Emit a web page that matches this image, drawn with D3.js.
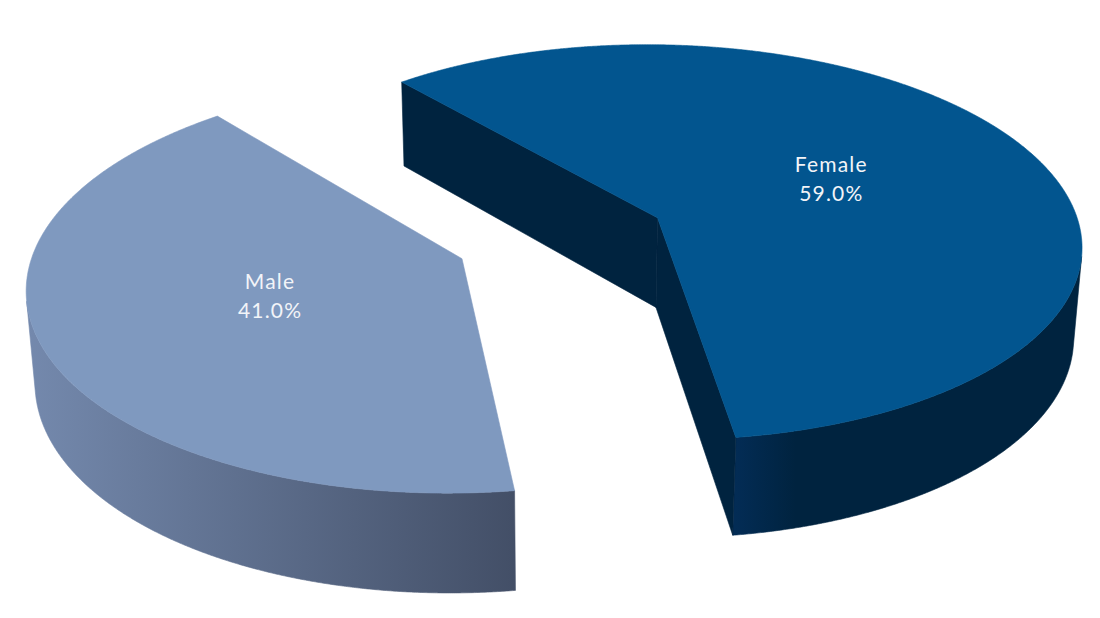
<!DOCTYPE html>
<html>
<head>
<meta charset="utf-8">
<script src="https://cdn.jsdelivr.net/npm/d3@7/dist/d3.min.js"></script>
<style>
  html, body { margin: 0; padding: 0; background: #ffffff; }
  svg { display: block; }
</style>
</head>
<body>
<svg id="chart" width="1100" height="618"></svg>
<script>
// data
var categories = ["Female", "Male"];
var shares = [59.0, 41.0];
var topColors = ["#02558f", "#7f99bf"];
var sideColors = [["#032c55", "#00233f"], ["#7489ad", "#434f67"]];

// view (3d pie, perspective)
var W = 1100, H = 618;
var cx = 561, cy = 238;          // screen pos of pie centre (top face)
var R = 425, depthH = 104;       // radius, thickness
var tilt = 28 * Math.PI / 180;   // elevation
var dist = 3000;                 // camera distance
var explode = 107;
var firstAngle = -40.2 * Math.PI / 180;
var labelR = 0.47;

var svg = d3.select("#chart");
var defs = svg.append("defs");

var pie = d3.pie().sort(null).value(function(d) { return d; })
  .startAngle(firstAngle).endAngle(firstAngle + 2 * Math.PI);
var arcs = pie(shares);

var cam = [0, dist * Math.sin(tilt), -dist * Math.cos(tilt)];

function project(p) {
  var x = p[0], y = p[1], z = p[2];
  var depth = -y * Math.sin(tilt) + z * Math.cos(tilt);
  var up = y * Math.cos(tilt) + z * Math.sin(tilt);
  var s = dist / (dist + depth);
  return [cx + x * s, cy - up * s];
}

// d3 angle (clockwise from 12 o'clock) -> ground angle (ccw from right)
function ground(a) { return Math.PI / 2 - a; }

var line = d3.line();

var slices = arcs.map(function(a, i) {
  var t0 = ground(a.endAngle), t1 = ground(a.startAngle);
  var mid = (t0 + t1) / 2;
  var ox = explode * Math.cos(mid), oz = explode * Math.sin(mid);
  return { i: i, t0: t0, t1: t1, mid: mid, ox: ox, oz: oz,
    depth: oz * Math.cos(tilt) };
});
slices.sort(function(a, b) { return b.depth - a.depth; });

function rim(s, t, y) {
  return [s.ox + R * Math.cos(t), y, s.oz + R * Math.sin(t)];
}
function facing(p, n) {
  return n[0] * (cam[0] - p[0]) + n[1] * (cam[1] - p[1]) + n[2] * (cam[2] - p[2]) > 0;
}

var step = 0.25 * Math.PI / 180;

slices.forEach(function(s) {
  var g = svg.append("g");
  var apexT = [s.ox, 0, s.oz], apexB = [s.ox, -depthH, s.oz];

  // outer wall, visible runs only
  var ts = d3.range(s.t0, s.t1, step).concat([s.t1]);
  var runs = [], cur = null;
  ts.forEach(function(t) {
    var vis = facing(rim(s, t, 0), [Math.cos(t), 0, Math.sin(t)]);
    if (vis) { if (!cur) { cur = []; runs.push(cur); } cur.push(t); }
    else cur = null;
  });
  var gid = "side" + s.i;
  var xs = [];
  runs.forEach(function(r) { r.forEach(function(t) { xs.push(project(rim(s, t, 0))[0]); }); });
  var grad = defs.append("linearGradient").attr("id", gid)
    .attr("gradientUnits", "userSpaceOnUse")
    .attr("x1", d3.min(xs)).attr("x2", s.i === 0 ? d3.min(xs) + 60 : d3.max(xs))
    .attr("y1", 0).attr("y2", 0);
  grad.append("stop").attr("offset", 0).attr("stop-color", sideColors[s.i][0]);
  grad.append("stop").attr("offset", 1).attr("stop-color", sideColors[s.i][1]);
  runs.forEach(function(r) {
    var pts = r.map(function(t) { return project(rim(s, t, 0)); })
      .concat(r.slice().reverse().map(function(t) { return project(rim(s, t, -depthH)); }));
    g.append("path").attr("d", line(pts) + "Z")
      .attr("fill", "url(#" + gid + ")").attr("stroke", "url(#" + gid + ")").attr("stroke-width", 0.6);
  });

  // radial walls
  [[s.t0, [Math.sin(s.t0), 0, -Math.cos(s.t0)]], [s.t1, [-Math.sin(s.t1), 0, Math.cos(s.t1)]]]
    .forEach(function(w) {
      if (!facing(apexT, w[1])) return;
      var pts = [apexT, rim(s, w[0], 0), rim(s, w[0], -depthH), apexB].map(project);
      g.append("path").attr("d", line(pts) + "Z")
        .attr("fill", sideColors[s.i][1]).attr("stroke", sideColors[s.i][1]).attr("stroke-width", 0.6);
    });

  // top face
  var topPts = [project(apexT)].concat(ts.map(function(t) { return project(rim(s, t, 0)); }));
  g.append("path").attr("d", line(topPts) + "Z")
    .attr("fill", topColors[s.i]).attr("stroke", topColors[s.i]).attr("stroke-width", 0.6);

  // label
  var lp = project([s.ox + labelR * R * Math.cos(s.mid), 0, s.oz + labelR * R * Math.sin(s.mid)]);
  var txt = g.append("text").attr("text-anchor", "middle")
    .attr("font-family", "Lato, 'Open Sans', sans-serif").attr("font-size", 21)
    .attr("letter-spacing", 1.2).attr("fill", "#f2f4f8");
  txt.append("tspan").attr("x", lp[0]).attr("y", lp[1] - 10).text(categories[s.i]);
  txt.append("tspan").attr("x", lp[0]).attr("y", lp[1] + 19).text(d3.format(".1f")(shares[s.i]) + "%");
});
</script>
</body>
</html>
